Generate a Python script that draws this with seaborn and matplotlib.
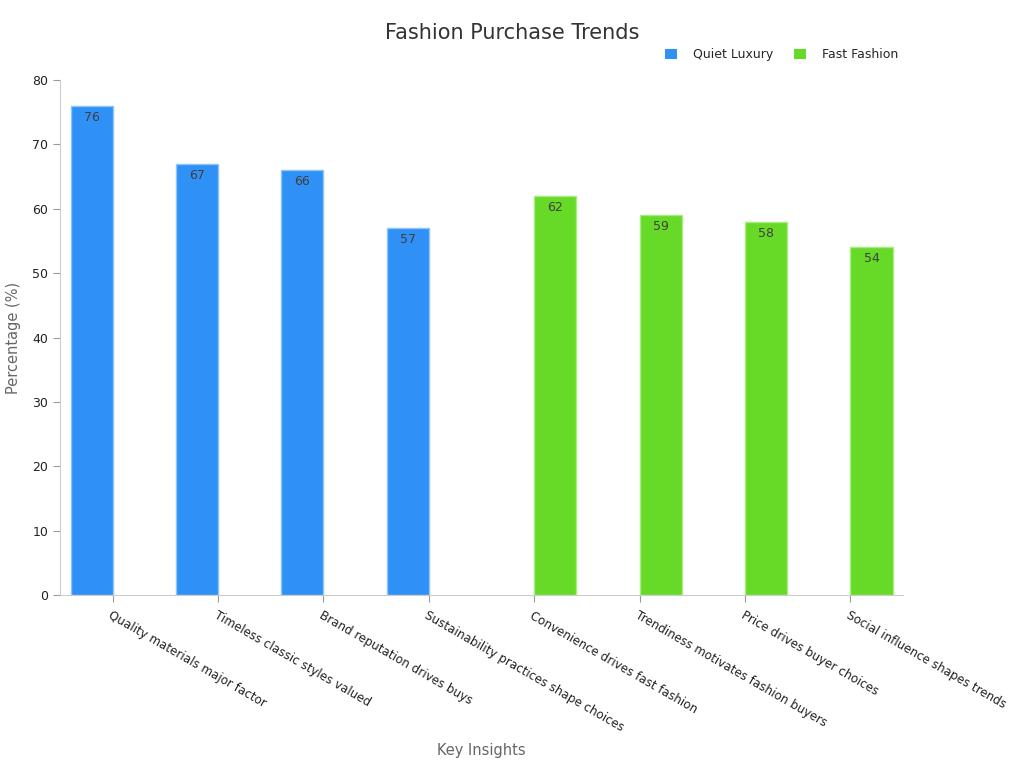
import matplotlib
matplotlib.use("Agg")
import matplotlib.pyplot as plt
import pandas as pd
import seaborn as sns

categories = [
    "Quality materials major factor",
    "Timeless classic styles valued",
    "Brand reputation drives buys",
    "Sustainability practices shape choices",
    "Convenience drives fast fashion",
    "Trendiness motivates fashion buyers",
    "Price drives buyer choices",
    "Social influence shapes trends",
]
groups = ["Quiet Luxury"] * 4 + ["Fast Fashion"] * 4
values = [76, 67, 66, 57, 62, 59, 58, 54]
palette = {"Quiet Luxury": "#2f90f6", "Fast Fashion": "#66da26"}
edges = {"Quiet Luxury": "#8cc4fb", "Fast Fashion": "#a6ec80"}


def plot():
    sns.set_style("white")
    df = pd.DataFrame({"Insight": categories, "Group": groups, "Value": values})

    fig = plt.figure(figsize=(10.24, 7.68), dpi=100)
    ax = fig.add_axes([0.0586, 0.225, 0.8234, 0.671])

    sns.barplot(data=df, x="Insight", y="Value", hue="Group", palette=palette,
                order=categories, hue_order=["Quiet Luxury", "Fast Fashion"],
                saturation=1, width=0.8, dodge=True, ax=ax, legend=True)

    for container, grp in zip(ax.containers, ["Quiet Luxury", "Fast Fashion"]):
        for bar in container:
            bar.set_edgecolor(edges[grp])
            bar.set_linewidth(1)
        ax.bar_label(container, labels=[f"{v:.0f}" if v == v and v > 0 else ""
                                        for v in container.datavalues],
                     padding=-13, fontsize=9, color="#404040")

    ax.set_ylim(0, 80)
    ax.set_xlim(-0.5, len(categories) - 0.5)
    ax.set_yticks(range(0, 81, 10))
    sns.despine(ax=ax)
    for side in ["left", "bottom"]:
        ax.spines[side].set_color("#cccccc")
    ax.tick_params(axis="both", length=5, color="#999999", labelsize=9,
                   labelcolor="#222222", bottom=True, left=True)
    ax.tick_params(axis="x", labelsize=8.6, pad=5)
    plt.setp(ax.get_xticklabels(), rotation=-30, ha="left",
             rotation_mode="anchor")

    ax.set_ylabel("Percentage (%)", color="#666666", fontsize=10.5, labelpad=8)
    ax.set_xlabel("Key Insights", color="#666666", fontsize=10.5)
    ax.xaxis.set_label_coords(0.5, -0.287)

    fig.suptitle("Fashion Purchase Trends", fontsize=15, color="#333333",
                 y=0.97)

    leg = ax.legend(loc="center right", bbox_to_anchor=(1.0, 1.049), ncol=2,
                    frameon=False, fontsize=9, handlelength=0.9,
                    handleheight=0.9, columnspacing=1.7, handletextpad=1.3,
                    borderaxespad=0.0)
    for h in leg.legend_handles:
        h.set_edgecolor("none")

    plt.savefig("out.png")


if __name__ == "__main__":
    plot()
